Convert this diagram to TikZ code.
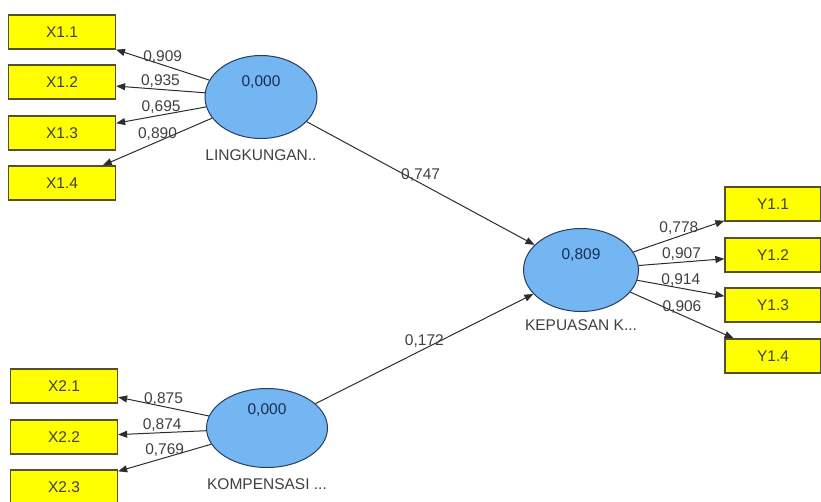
\documentclass[tikz,border=0pt]{standalone}
\usepackage{fontspec}
\setmainfont{Liberation Sans}
\usetikzlibrary{arrows.meta,shapes.geometric}
\definecolor{boxyellow}{RGB}{255,255,0}
\definecolor{boxline}{RGB}{85,80,40}
\definecolor{latblue}{RGB}{115,182,242}
\definecolor{latline}{RGB}{40,60,95}
\definecolor{valtext}{RGB}{25,45,85}
\definecolor{edgegray}{RGB}{45,45,45}
\tikzset{
	ind/.style={draw=boxline, line width=1.3pt, fill=boxyellow, minimum width=107pt, minimum height=34pt, inner sep=0pt, text=black!75},
	lat/.style={draw=latline, line width=1pt, fill=latblue, ellipse, minimum width=115pt, minimum height=83pt, inner sep=0pt},
	val/.style={text=valtext},
	lab/.style={text=black!75, inner sep=1pt},
	>={Triangle[length=9pt,width=7pt]}
}
\begin{document}
\begin{tikzpicture}[x=1pt, y=-1pt, font=\fontsize{15.5}{17}\selectfont]
	\useasboundingbox (0,0) rectangle (821,501);

	\node[ind] (x11) at (62,32) {X1.1};
	\node[ind] (x12) at (62,82) {X1.2};
	\node[ind] (x13) at (62,133) {X1.3};
	\node[ind] (x14) at (62,183) {X1.4};

	\node[ind] (x21) at (64,386) {X2.1};
	\node[ind] (x22) at (64,437) {X2.2};
	\node[ind] (x23) at (64,487) {X2.3};

	\node[ind, minimum width=96pt] (y11) at (773,204) {Y1.1};
	\node[ind, minimum width=96pt] (y12) at (773,255) {Y1.2};
	\node[ind, minimum width=96pt] (y13) at (773,305) {Y1.3};
	\node[ind, minimum width=96pt] (y14) at (773,356) {Y1.4};

	\node[lat, minimum width=112pt, label={[val, yshift=15pt]center:0,000}, label={[lab, label distance=9pt]below:LINGKUNGAN..}] (ling) at (261,97) {};
	\node[lat, label={[val, yshift=15pt]center:0,809}, label={[lab, label distance=6pt]below:KEPUASAN K...}] (kep) at (581,270) {};
	\node[lat, minimum width=121pt, minimum height=79pt, label={[val, yshift=18pt]center:0,000}, label={[lab, label distance=9pt]below:KOMPENSASI ...}] (komp) at (267,428) {};

	\draw[->, edgegray, line width=1pt] (ling) -- node[midway, above, lab] {0,909} (x11);
	\draw[->, edgegray, line width=1pt] (ling) -- node[midway, above, lab] {0,935} (x12);
	\draw[->, edgegray, line width=1pt] (ling) -- node[midway, above, lab] {0,695} (x13);
	\draw[->, edgegray, line width=1pt] (ling) -- node[midway, above, lab] {0,890} (x14);

	\draw[->, edgegray, line width=1pt] (komp) -- node[midway, above, lab] {0,875} (x21);
	\draw[->, edgegray, line width=1pt] (komp) -- node[midway, above, lab] {0,874} (x22);
	\draw[->, edgegray, line width=1pt] (komp) -- node[midway, above, lab] {0,769} (x23);

	\draw[->, edgegray, line width=1pt] (kep) -- node[midway, above, lab] {0,778} (y11);
	\draw[->, edgegray, line width=1pt] (kep) -- node[midway, above, lab] {0,907} (y12);
	\draw[->, edgegray, line width=1pt] (kep) -- node[midway, above, lab] {0,914} (y13);
	\draw[->, edgegray, line width=1pt] (kep) -- node[midway, above, lab] {0,906} (y14);

	\draw[->, edgegray, line width=1pt] (ling) -- node[midway, above, lab] {0,747} (kep);
	\draw[->, edgegray, line width=1pt] (komp) -- node[midway, above, lab] {0,172} (kep);
\end{tikzpicture}
\end{document}
